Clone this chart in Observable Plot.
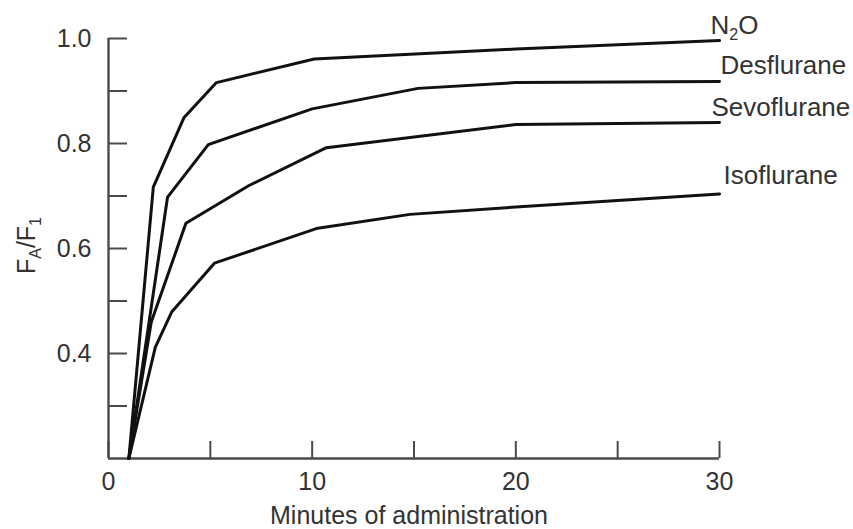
<!DOCTYPE html>
<html>
<head>
<meta charset="utf-8">
<script src="https://cdn.jsdelivr.net/npm/d3@7"></script>
<script src="https://cdn.jsdelivr.net/npm/@observablehq/plot@0.6"></script>
<style>
  html, body { margin: 0; padding: 0; background: #fff; overflow: hidden; }
  #chart svg { display: block; }
</style>
</head>
<body>
<div id="chart"></div>
<script>
// Uptake curves: alveolar / inspired anaesthetic concentration ratio over time
const agents = ["N2O", "Desflurane", "Sevoflurane", "Isoflurane"];

const n2oMinutes = [1, 2.2, 3.7, 5.3, 10.1, 15.3, 20, 30];
const n2oRatio   = [0.2, 0.717, 0.849, 0.916, 0.961, 0.971, 0.980, 0.996];

const desfluraneMinutes = [1, 2.9, 4.9, 10, 15.2, 20, 30];
const desfluraneRatio   = [0.2, 0.698, 0.798, 0.866, 0.905, 0.916, 0.918];

const sevofluraneMinutes = [1, 2.1, 3.8, 6.9, 10.7, 20, 30];
const sevofluraneRatio   = [0.2, 0.46, 0.648, 0.72, 0.792, 0.836, 0.840];

const isofluraneMinutes = [1, 2.3, 3.1, 5.2, 10.2, 14.8, 20, 30];
const isofluraneRatio   = [0.2, 0.412, 0.479, 0.572, 0.638, 0.665, 0.679, 0.704];

const xTicks = [0, 5, 10, 15, 20, 25, 30];
const xTickLabels = [0, 10, 20, 30];
const yTicks = [0.3, 0.4, 0.5, 0.6, 0.7, 0.8, 0.9, 1.0];
const yTickLabels = [0.4, 0.6, 0.8, 1.0];

const xTitle = "Minutes of administration";
const yTitle = "FA/F1";

// Pieces of labels that carry subscripts: [text, isSubscript]
const richLabels = {
  "FA/F1": [["F", false], ["A", true], ["/F", false], ["1", true]],
  "N2O": [["N", false], ["2", true], ["O", false]]
};

const minutesBy = [n2oMinutes, desfluraneMinutes, sevofluraneMinutes, isofluraneMinutes];
const ratioBy = [n2oRatio, desfluraneRatio, sevofluraneRatio, isofluraneRatio];

const rows = agents.flatMap((agent, i) =>
  minutesBy[i].map((m, j) => ({agent, minutes: m, ratio: ratioBy[i][j]}))
);
const lastPoints = agents.map(agent => rows.filter(r => r.agent === agent).at(-1));

// label nudges relative to each curve's final point (px)
const labelNudge = {
  "N2O": {dx: -9, dy: -15},
  "Desflurane": {dx: 1, dy: -16},
  "Sevoflurane": {dx: -8, dy: -15},
  "Isoflurane": {dx: 4, dy: -18}
};

const axisColor = "#4a4a4a";
const textColor = "#333";
const font = "'Liberation Sans', Arial, Helvetica, sans-serif";
const fs = 25;

const chart = Plot.plot({
  width: 853,
  height: 529,
  marginTop: 38,
  marginBottom: 71,
  marginLeft: 108,
  marginRight: 134,
  style: {fontFamily: font, background: "#fff", color: textColor},
  x: {domain: [0, 30]},
  y: {domain: [0.2, 1.0]},
  marks: [
    // axis lines
    Plot.ruleX([0], {stroke: axisColor, strokeWidth: 2.4}),
    Plot.ruleY([0.2], {stroke: axisColor, strokeWidth: 2.4}),
    // inward tick marks
    Plot.axisX(xTicks, {tickSize: -17, stroke: axisColor, strokeWidth: 2, fill: "none", label: null}),
    Plot.axisY(yTicks, {tickSize: -19, stroke: axisColor, strokeWidth: 2, fill: "none", label: null}),
    // tick labels
    Plot.axisX(xTickLabels, {tickSize: 0, tickPadding: 14, fontSize: fs, fill: textColor, label: null}),
    Plot.axisY(yTickLabels, {tickSize: 0, tickPadding: 17, tickFormat: d3.format(".1f"), fontSize: fs, fill: textColor, label: null}),
    // curves
    Plot.line(rows, {x: "minutes", y: "ratio", z: "agent", stroke: "#111", strokeWidth: 3, strokeLinejoin: "miter"}),
    // direct labels at the curve ends
    ...lastPoints.map(p => Plot.text([p], {
      x: "minutes", y: "ratio", text: "agent",
      textAnchor: "start", lineAnchor: "middle",
      dx: labelNudge[p.agent].dx, dy: labelNudge[p.agent].dy,
      fontSize: 26, fill: textColor
    })),
    // axis titles
    Plot.text([xTitle], {text: d => d, frameAnchor: "bottom", textAnchor: "middle", lineAnchor: "middle", dx: -5, dy: 57, fontSize: fs, fill: textColor}),
    Plot.text([yTitle], {text: d => d, frameAnchor: "left", textAnchor: "middle", rotate: -90, lineAnchor: "middle", dx: -82, dy: -3, fontSize: fs, fill: textColor})
  ]
});

// render subscripts with tspans
d3.select(chart).selectAll("text").each(function () {
  const parts = richLabels[this.textContent];
  if (!parts) return;
  const el = d3.select(this);
  el.text(null);
  let shifted = false;
  for (const [str, sub] of parts) {
    const t = el.append("tspan").text(str);
    if (sub && !shifted) { t.attr("dy", 6).attr("font-size", 16); shifted = true; }
    else if (sub) { t.attr("font-size", 16); }
    else if (shifted) { t.attr("dy", -6); shifted = false; }
  }
});

document.getElementById("chart").append(chart);
</script>
</body>
</html>
